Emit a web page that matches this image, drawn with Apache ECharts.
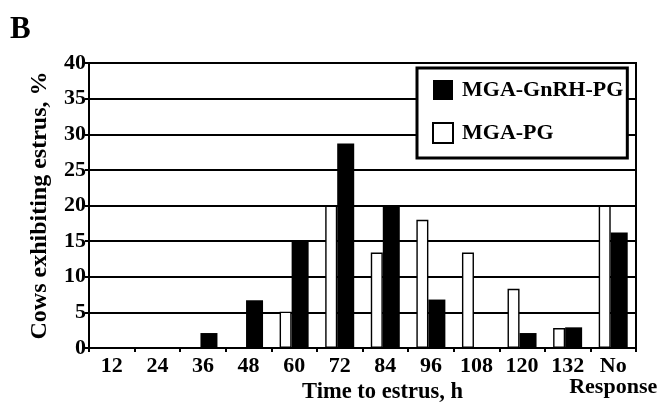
<!DOCTYPE html>
<html>
<head>
<meta charset="utf-8">
<script src="https://cdn.jsdelivr.net/npm/echarts@6/dist/echarts.min.js"></script>
<style>
  html, body { margin: 0; padding: 0; background: #fff; }
  #chart { width: 668px; height: 402px; }
</style>
</head>
<body>
<div id="chart"></div>
<script>
// Hours from treatment to onset of estrus, plus the non-responders
const categories = ['12', '24', '36', '48', '60', '72', '84', '96', '108', '120', '132', 'No\nResponse'];
// Percentage of cows exhibiting estrus in each window
const mgaGnrhPg = [0, 0, 2.1, 6.7, 15, 28.7, 20, 6.8, 0, 2.1, 2.9, 16.2];
const mgaPg     = [0, 0, 0, 0, 5.1, 20, 13.4, 18, 13.4, 8.3, 2.8, 20];
const yTicks = { min: 0, max: 40, step: 5 };

const serif = '"Liberation Serif", "DejaVu Serif", serif';

const chart = echarts.init(document.getElementById('chart'), null, { renderer: 'canvas' });

chart.setOption({
  animation: false,
  backgroundColor: '#fff',
  grid: {
    left: 89, right: 32, top: 63, bottom: 54,
    containLabel: false,
    outerBoundsMode: 'none',
    show: true, borderColor: '#000', borderWidth: 2, backgroundColor: 'transparent'
  },
  graphic: [
    {
      type: 'text', left: 10, top: 14,
      style: { text: 'B', font: 'bold 31px ' + serif, fill: '#000' }
    }
  ],
  legend: {
    orient: 'vertical',
    left: 417, top: 68,
    padding: [11, 4, 14, 15],
    itemGap: 21,
    itemWidth: 20, itemHeight: 20,
    backgroundColor: '#fff',
    borderColor: '#000', borderWidth: 3,
    icon: 'rect',
    textStyle: { fontFamily: serif, fontWeight: 'bold', fontSize: 22, color: '#000', padding: [0, 0, 0, 4] },
    data: ['MGA-GnRH-PG', 'MGA-PG']
  },
  xAxis: {
    type: 'category',
    data: categories,
    name: 'Time to estrus, h',
    nameLocation: 'middle',
    nameGap: 33,
    nameMoveOverlap: false,
    nameTextStyle: { fontFamily: serif, fontWeight: 'bold', fontSize: 22.5, color: '#000', padding: [0, 0, 0, 40] },
    axisLine: { lineStyle: { color: '#000', width: 2 } },
    axisTick: { show: true, alignWithLabel: false, length: 4, lineStyle: { color: '#000', width: 2 } },
    axisLabel: { fontFamily: serif, fontWeight: 'bold', fontSize: 22, color: '#000', margin: 8, lineHeight: 21, interval: 0 },
    splitLine: { show: false }
  },
  yAxis: {
    type: 'value',
    min: yTicks.min, max: yTicks.max, interval: yTicks.step,
    name: 'Cows exhibiting estrus, %',
    nameLocation: 'middle',
    nameGap: 37,
    nameMoveOverlap: false,
    nameTextStyle: { fontFamily: serif, fontWeight: 'bold', fontSize: 24, color: '#000' },
    axisLine: { show: true, lineStyle: { color: '#000', width: 2 } },
    axisTick: { show: true, length: 4, lineStyle: { color: '#000', width: 2 } },
    axisLabel: { fontFamily: serif, fontWeight: 'bold', fontSize: 22, color: '#000', margin: 3 },
    splitLine: { show: true, lineStyle: { color: '#000', width: 2 } }
  },
  series: [
    {
      name: 'MGA-PG',
      type: 'bar',
      data: mgaPg,
      barWidth: 12,
      barGap: '0%',
      itemStyle: { color: '#fff', borderColor: '#000', borderWidth: 1.4 },
      z: 2
    },
    {
      name: 'MGA-GnRH-PG',
      type: 'bar',
      data: mgaGnrhPg,
      barWidth: 17,
      barGap: '0%',
      itemStyle: { color: '#000', borderColor: '#000', borderWidth: 0 },
      z: 3
    }
  ]
});
</script>
</body>
</html>
